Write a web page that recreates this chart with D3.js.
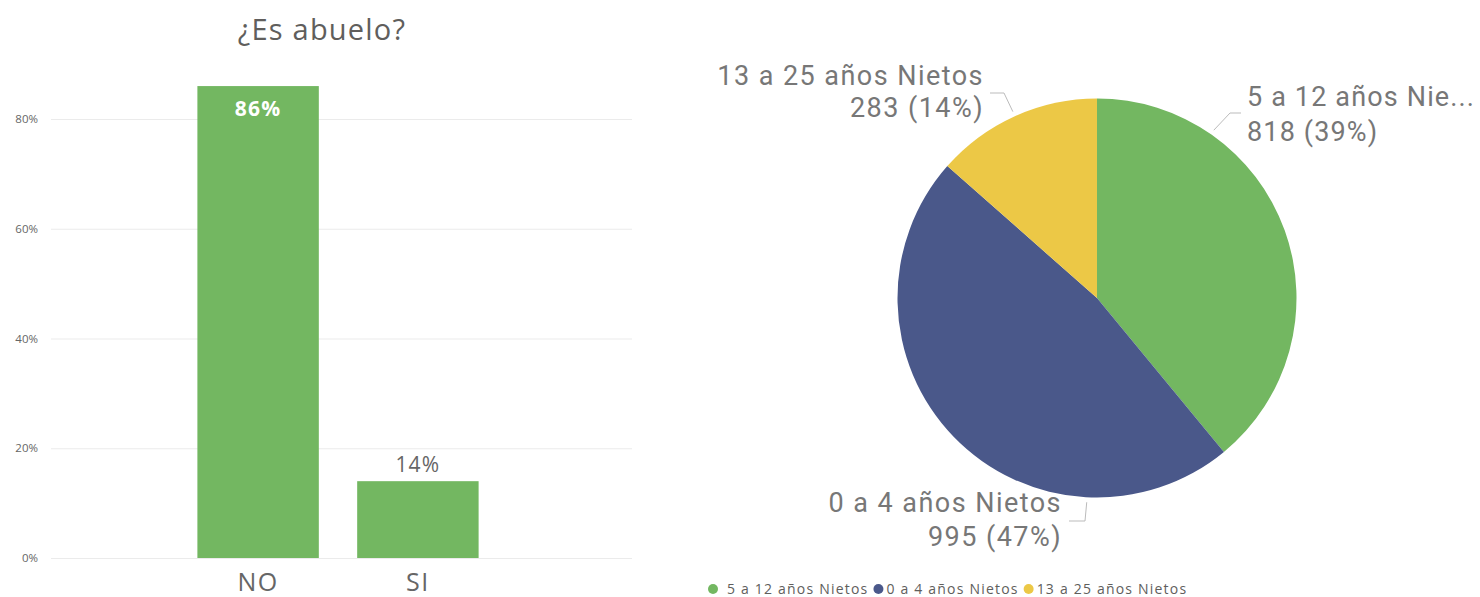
<!DOCTYPE html>
<html>
<head>
<meta charset="utf-8">
<script src="https://cdn.jsdelivr.net/npm/d3@7"></script>
<style>
  html, body { margin: 0; padding: 0; background: #fff; }
  svg { display: block; }
</style>
</head>
<body>
<svg id="chart" width="1480" height="597"></svg>
<script>
// ---- Bar chart data: "¿Es abuelo?" ----
const barTitle = "¿Es abuelo?";
const barCategories = ["NO", "SI"];
const barValues = [86, 14];
const yTicks = [0, 20, 40, 60, 80];

// ---- Pie chart data: grandchildren age groups ----
const pieCategories = ["5 a 12 años Nietos", "0 a 4 años Nietos", "13 a 25 años Nietos"];
const pieShortLabels = ["5 a 12 años Nie...", "0 a 4 años Nietos", "13 a 25 años Nietos"];
const pieValues = [818, 995, 283];
const pieColors = ["#73B761", "#4A588A", "#ECC846"];

const svg = d3.select("#chart");
const barGreen = "#73B761";
const textGrey = "#666666";
const uiFont = "Open Sans, sans-serif";

// ================= Bar chart =================
const y = d3.scaleLinear().domain([0, 80]).range([558, 119]);
const x = d3.scaleBand().domain(barCategories).range([44, 632])
  .paddingInner(0.24).paddingOuter(0.96);

svg.append("text")
  .attr("x", 322).attr("y", 40)
  .attr("text-anchor", "middle")
  .attr("font-family", uiFont)
  .attr("font-size", 29)
  .attr("letter-spacing", 1.2)
  .attr("fill", "#605E5C")
  .text(barTitle);

// gridlines + tick labels
const yAxis = svg.append("g").attr("transform", "translate(51,0)")
  .call(d3.axisLeft(y).tickValues(yTicks).tickFormat(d => d + "%")
    .tickSize(-581).tickPadding(13));
yAxis.select(".domain").remove();
yAxis.selectAll(".tick line").attr("stroke", "#EBEBEB").attr("stroke-width", 1);
yAxis.selectAll(".tick text")
  .attr("font-family", uiFont)
  .attr("font-size", 11.5)
  .attr("fill", "#666");

// bars
svg.append("g").selectAll("rect")
  .data(barValues)
  .join("rect")
  .attr("x", (d, i) => x(barCategories[i]))
  .attr("y", d => y(d))
  .attr("width", x.bandwidth())
  .attr("height", d => y(0) - y(d))
  .attr("fill", barGreen);

// value labels: inside the tall bar, above the short one
svg.append("g").selectAll("text")
  .data(barValues)
  .join("text")
  .attr("x", (d, i) => x(barCategories[i]) + x.bandwidth() / 2)
  .attr("y", d => d > 50 ? y(d) + 30 : y(d) - 9)
  .attr("text-anchor", "middle")
  .attr("font-family", uiFont)
  .attr("font-size", 21)
  .attr("letter-spacing", 1.2)
  .attr("font-weight", d => d > 50 ? 700 : 400)
  .attr("fill", d => d > 50 ? "#fff" : textGrey)
  .text(d => d + "%");

// category axis labels
svg.append("g").selectAll("text")
  .data(barCategories)
  .join("text")
  .attr("x", d => x(d) + x.bandwidth() / 2)
  .attr("y", 591)
  .attr("text-anchor", "middle")
  .attr("font-family", uiFont)
  .attr("font-size", 25)
  .attr("letter-spacing", 1.5)
  .attr("fill", textGrey)
  .text(d => d);

// ================= Pie chart =================
const cx = 1097, cy = 298, r = 199.5;
const total = d3.sum(pieValues);
const pie = d3.pie().sort(null).value(d => d)(pieValues);
const arc = d3.arc().innerRadius(0).outerRadius(r);

const pieG = svg.append("g").attr("transform", `translate(${cx},${cy})`);
pieG.selectAll("path")
  .data(pie)
  .join("path")
  .attr("d", arc)
  .attr("fill", (d, i) => pieColors[i]);

// leader lines: start just outside the arc (at a given fraction across the
// slice), then an elbow toward the label
const labelFont = "Roboto, sans-serif";
const labelColor = "#777777";
const leaderSpecs = [
  { frac: 0.248, elbow: [1230, 113], end: [1241, 113], anchor: "start", tx: 1247, ty1: 106, ty2: 141, ls: 1.15 },
  { frac: 0.248, elbow: [1085, 521], end: [1069, 521], anchor: "end", tx: 1062, ty1: 512, ty2: 546, ls: 1.45 },
  { frac: 0.5, elbow: [1004, 93], end: [990, 93], anchor: "end", tx: 984, ty1: 85, ty2: 117, ls: 1.45 }
];

pie.forEach((d, i) => {
  const spec = leaderSpecs[i];
  const a = d.startAngle + (d.endAngle - d.startAngle) * spec.frac;
  const ro = r + 5;
  const sx = cx + Math.sin(a) * ro;
  const sy = cy - Math.cos(a) * ro;
  svg.append("polyline")
    .attr("points", [[sx, sy], spec.elbow, spec.end].map(p => p.join(",")).join(" "))
    .attr("fill", "none")
    .attr("stroke", "#BBBBBB")
    .attr("stroke-width", 1);

  const pct = Math.round(d.data / total * 100);
  [pieShortLabels[i], `${d.data} (${pct}%)`].forEach((txt, k) => {
    svg.append("text")
      .attr("x", spec.tx).attr("y", k === 0 ? spec.ty1 : spec.ty2)
      .attr("text-anchor", spec.anchor)
      .attr("font-family", labelFont)
      .attr("font-size", 27)
      .attr("letter-spacing", spec.ls)
      .attr("fill", labelColor)
      .text(txt);
  });
});

// legend
const legend = svg.append("g").attr("transform", "translate(713,589)");
let lx = 0;
pieCategories.forEach((name, i) => {
  const item = legend.append("g").attr("transform", `translate(${lx},0)`);
  item.append("circle").attr("r", 5).attr("fill", pieColors[i]);
  const gap = i === 0 ? 14 : 8;
  const t = item.append("text")
    .attr("x", gap).attr("y", 5)
    .attr("font-family", uiFont)
    .attr("font-size", 14)
    .attr("letter-spacing", 1.2)
    .attr("fill", "#605E5C")
    .text(name);
  lx += gap + t.node().getComputedTextLength() + 10;
});
</script>
</body>
</html>
